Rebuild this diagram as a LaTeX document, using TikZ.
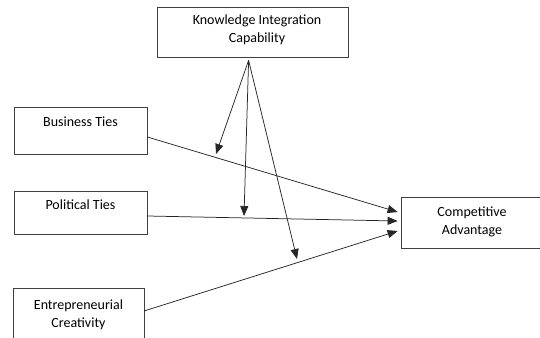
\documentclass[tikz,border=0pt]{standalone}
\usepackage{fontspec}
\setmainfont{Carlito}
\usetikzlibrary{arrows.meta,calc}
\begin{document}
\begin{tikzpicture}[x=1pt,y=-1pt,
  box/.style={draw=black!75,line width=0.8pt,rectangle,inner sep=0pt},
  lbl/.style={font=\fontsize{14}{18}\selectfont,align=center,inner sep=0pt,anchor=north},
  conn/.style={draw=black!85,line width=0.75pt,-{Triangle[length=10pt,width=8pt]}}]
\useasboundingbox (0,0) rectangle (540,337);
% boxes
\node[box,minimum width=191pt,minimum height=50pt] (kic) at (252.5,32) {};
\node[box,minimum width=133pt,minimum height=47pt] (bt) at (80.5,130.5) {};
\node[box,minimum width=133pt,minimum height=43pt] (pt) at (80.5,212.5) {};
\node[box,minimum width=131pt,minimum height=60pt] (ec) at (78.5,318) {};
\node[box,minimum width=144pt,minimum height=51pt] (ca) at (473,222.5) {};
% labels
\node[lbl] (kict) at (257,15) {Knowledge Integration\\Capability};
\node[lbl] (btt) at (80.5,117) {Business Ties};
\node[lbl] (ptt) at (80.5,200) {Political Ties};
\node[lbl] (ect) at (78.5,300) {Entrepreneurial\\Creativity};
\node[lbl] (cat) at (472,207) {Competitive\\Advantage};
% connector points
\coordinate (src) at ($(kic.south west)+(92,3)$);
\coordinate (m1) at (216,154);
\coordinate (m2) at (244,216);
\coordinate (m3) at (297,259);
\coordinate (bo) at ($(bt.east)+(0,6.5)$);
\coordinate (po) at ($(pt.east)+(0,3.5)$);
\coordinate (eo) at (144,311);
\coordinate (ci1) at ($(ca.west)+(-3,-10.5)$);
\coordinate (ci2) at ($(ca.west)+(-3,-1.5)$);
\coordinate (ci3) at ($(ca.west)+(-3,8.5)$);
% connectors
\draw[conn] (bo) -- (ci1);
\draw[conn] (po) -- (ci2);
\draw[conn] (eo) -- (ci3);
\draw[conn] (src) -- (m1);
\draw[conn] (src) -- (m2);
\draw[conn] (src) -- (m3);
\end{tikzpicture}
\end{document}
